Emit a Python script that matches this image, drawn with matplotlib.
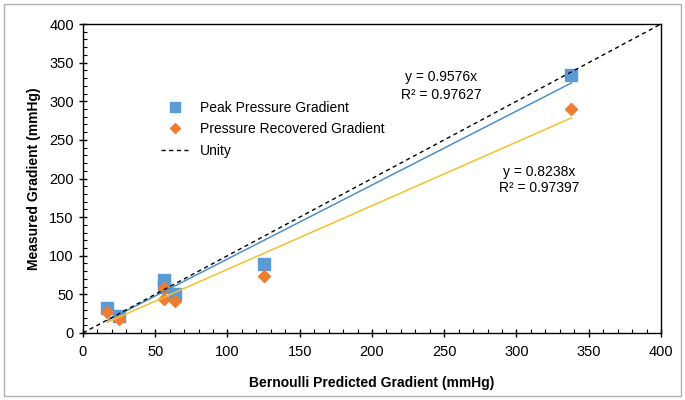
import numpy as np
import matplotlib
matplotlib.use('Agg')
import matplotlib.pyplot as plt
from matplotlib.ticker import MultipleLocator
from matplotlib.patches import Rectangle

plt.rcParams['font.family'] = ['Liberation Sans', 'DejaVu Sans']

# data
bernoulli = [17, 25, 56, 56, 64, 125, 338]
peak = [33, 22, 68, 60, 50, 89, 334]
recovered = [27, 18, 58, 44, 42, 74, 290]
peak_slope = 0.9576
rec_slope = 0.8238
peak_r2 = 0.97627
rec_r2 = 0.97397

fig = plt.figure(figsize=(6.85, 4.0), dpi=100)
ax = fig.add_axes([0.121, 0.1675, 0.844, 0.7725])

fig.patches.append(Rectangle((0.006, 0.01), 0.988, 0.98, transform=fig.transFigure,
                             fill=False, edgecolor='#b0b0b0', linewidth=1.0))

xfit = np.array([min(bernoulli), max(bernoulli)])
ax.plot([0, 400], [0, 400], linestyle=(0, (3, 2.5)), color='black', linewidth=1.0, label='Unity', zorder=3)
ax.plot(xfit, peak_slope * xfit, color='#4a90c8', linewidth=1.1, zorder=2)
ax.plot(xfit, rec_slope * xfit, color='#f2c22c', linewidth=1.1, zorder=2)
ax.plot(bernoulli, peak, 's', color='#5b9bd5', markersize=9, linestyle='none',
        label='Peak Pressure Gradient', zorder=1)
ax.plot(bernoulli, recovered, 'D', color='#ed7d31', markersize=6.5, linestyle='none',
        label='Pressure Recovered Gradient', zorder=1.5)

ax.text(248, 331, 'y = %.4fx' % peak_slope, ha='center', va='center', fontsize=10)
ax.text(248, 308, 'R² = %.5f' % peak_r2, ha='center', va='center', fontsize=10)
ax.text(316, 208, 'y = %.4fx' % rec_slope, ha='center', va='center', fontsize=10)
ax.text(316, 188, 'R² = %.5f' % rec_r2, ha='center', va='center', fontsize=10)

ax.set_xlim(0, 400)
ax.set_ylim(0, 400)
ax.xaxis.set_major_locator(MultipleLocator(50))
ax.yaxis.set_major_locator(MultipleLocator(50))
ax.xaxis.set_minor_locator(MultipleLocator(10))
ax.yaxis.set_minor_locator(MultipleLocator(10))
ax.tick_params(which='major', direction='inout', length=6, width=1.0, labelsize=10.5)
ax.tick_params(which='minor', direction='in', length=3, width=0.8)
ax.tick_params(axis='x', pad=6)
for s in ax.spines.values():
    s.set_linewidth(1.0)

ax.set_xlabel('Bernoulli Predicted Gradient (mmHg)', fontsize=10, fontweight='bold', labelpad=12)
ax.set_ylabel('Measured Gradient (mmHg)', fontsize=10, fontweight='bold', labelpad=6)

handles, labels = ax.get_legend_handles_labels()
order = [1, 2, 0]
ax.legend([handles[i] for i in order], [labels[i] for i in order],
          loc='upper left', bbox_to_anchor=(0.125, 0.77), frameon=False,
          fontsize=10, handlelength=2.0, labelspacing=0.55, borderaxespad=0,
          markerscale=0.8)

fig.savefig('out.png', dpi=100)
